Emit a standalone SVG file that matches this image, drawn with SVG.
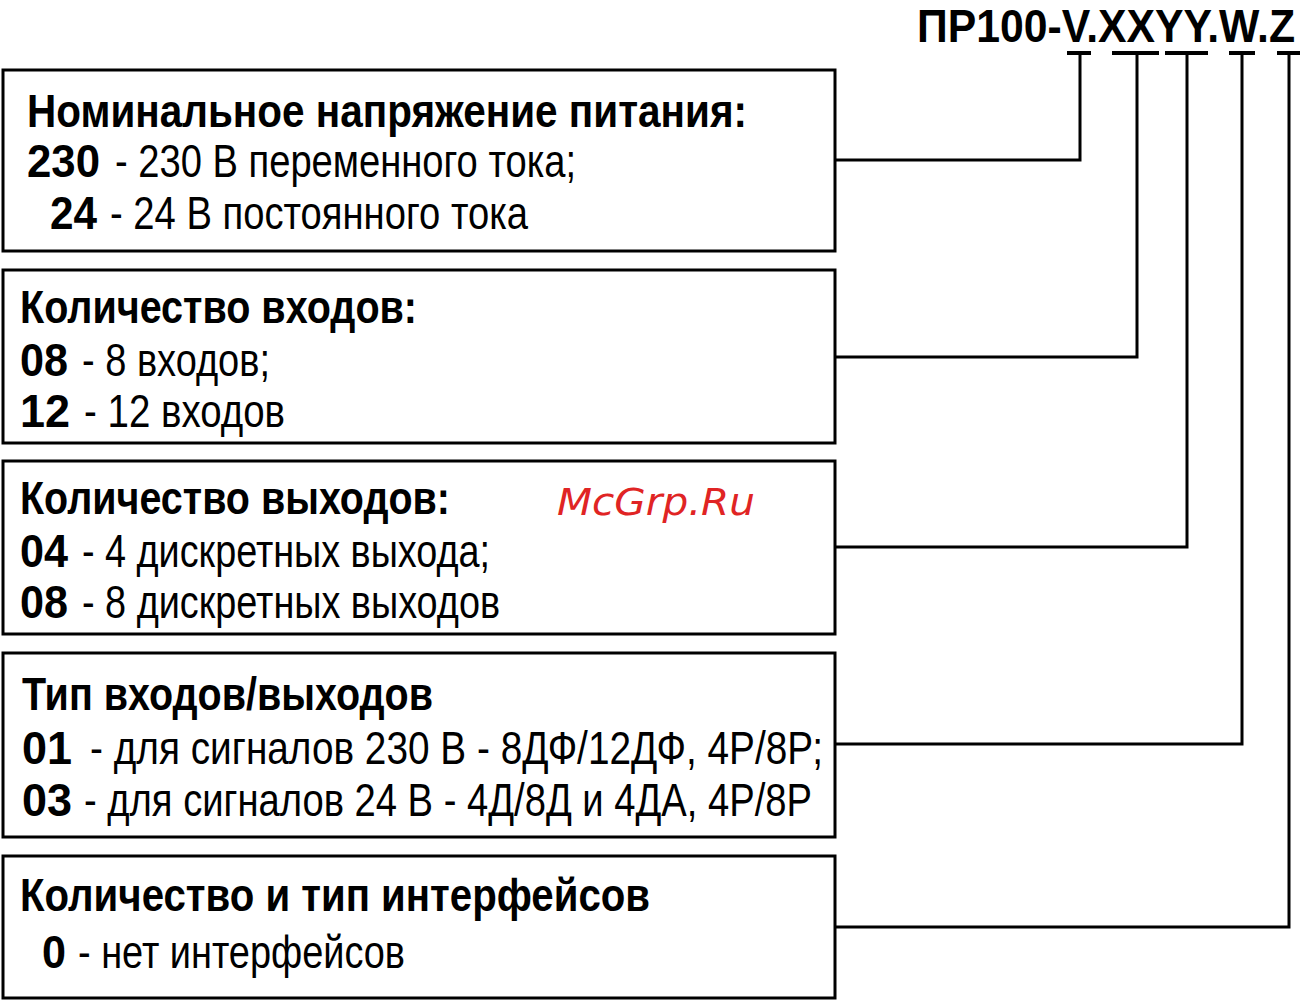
<svg xmlns="http://www.w3.org/2000/svg" width="1300" height="1002" viewBox="0 0 1300 1002">
<style>
.box{fill:#fff;stroke:#000;stroke-width:3}
.t{font-family:"Liberation Sans",Arial,sans-serif;font-size:46px;fill:#000}
.b{font-weight:bold}
.c{fill:none;stroke:#000;stroke-width:3}
.tick{stroke:#000;stroke-width:4}
.wm{font-family:"DejaVu Sans",sans-serif;font-style:italic;font-size:37px;fill:#e02424}
</style>
<rect width="1300" height="1002" fill="#fff"/>
<text class="b" x="0" y="0" transform="translate(917,42) scale(1,1.1)" font-family="Liberation Sans, Arial, sans-serif" font-size="41.5" fill="#000" textLength="378" lengthAdjust="spacingAndGlyphs">ПР100-V.XXYY.W.Z</text>
<g id="connectors">
<line class="tick" x1="1067" y1="53" x2="1091" y2="53"/>
<line class="tick" x1="1112" y1="53" x2="1159" y2="53"/>
<line class="tick" x1="1165" y1="53" x2="1208" y2="53"/>
<line class="tick" x1="1229" y1="53" x2="1255" y2="53"/>
<line class="tick" x1="1277" y1="53" x2="1300" y2="53"/>
<polyline class="c" points="1080,53 1080,160 835,160"/>
<polyline class="c" points="1137,53 1137,357 835,357"/>
<polyline class="c" points="1187,53 1187,547 835,547"/>
<polyline class="c" points="1242,53 1242,744 835,744"/>
<polyline class="c" points="1289,53 1289,927 835,927"/>
</g>
<g id="node-voltage">
<rect class="box" x="3" y="70" width="832" height="181"/>
<text class="t b" x="27" y="127" textLength="720" lengthAdjust="spacingAndGlyphs">Номинальное напряжение питания:</text>
<text class="t b" x="27" y="177" textLength="73" lengthAdjust="spacingAndGlyphs">230</text>
<text class="t" x="115" y="177" textLength="461" lengthAdjust="spacingAndGlyphs">- 230 В переменного тока;</text>
<text class="t b" x="50" y="229" textLength="47" lengthAdjust="spacingAndGlyphs">24</text>
<text class="t" x="110" y="229" textLength="418" lengthAdjust="spacingAndGlyphs">- 24 В постоянного тока</text>
</g>
<g id="node-inputs">
<rect class="box" x="3" y="270" width="832" height="173"/>
<text class="t b" x="20" y="323" textLength="397" lengthAdjust="spacingAndGlyphs">Количество входов:</text>
<text class="t b" x="20" y="376" textLength="48" lengthAdjust="spacingAndGlyphs">08</text>
<text class="t" x="82" y="376" textLength="188" lengthAdjust="spacingAndGlyphs">- 8 входов;</text>
<text class="t b" x="20" y="427" textLength="50" lengthAdjust="spacingAndGlyphs">12</text>
<text class="t" x="84" y="427" textLength="201" lengthAdjust="spacingAndGlyphs">- 12 входов</text>
</g>
<g id="node-outputs">
<rect class="box" x="3" y="461" width="832" height="173"/>
<text class="t b" x="20" y="514" textLength="430" lengthAdjust="spacingAndGlyphs">Количество выходов:</text>
<text class="t b" x="20" y="567" textLength="48" lengthAdjust="spacingAndGlyphs">04</text>
<text class="t" x="82" y="567" textLength="408" lengthAdjust="spacingAndGlyphs">- 4 дискретных выхода;</text>
<text class="t b" x="20" y="618" textLength="48" lengthAdjust="spacingAndGlyphs">08</text>
<text class="t" x="82" y="618" textLength="418" lengthAdjust="spacingAndGlyphs">- 8 дискретных выходов</text>
<text class="wm" x="557" y="515" textLength="198" lengthAdjust="spacingAndGlyphs">McGrp.Ru</text>
</g>
<g id="node-io-type">
<rect class="box" x="3" y="653" width="832" height="184"/>
<text class="t b" x="22" y="710" textLength="411" lengthAdjust="spacingAndGlyphs">Тип входов/выходов</text>
<text class="t b" x="22" y="764" textLength="50" lengthAdjust="spacingAndGlyphs">01</text>
<text class="t" x="90" y="764" textLength="733" lengthAdjust="spacingAndGlyphs">- для сигналов 230 В - 8ДФ/12ДФ, 4Р/8Р;</text>
<text class="t b" x="22" y="816" textLength="50" lengthAdjust="spacingAndGlyphs">03</text>
<text class="t" x="84" y="816" textLength="728" lengthAdjust="spacingAndGlyphs">- для сигналов 24 В - 4Д/8Д и 4ДА, 4Р/8Р</text>
</g>
<g id="node-interfaces">
<rect class="box" x="3" y="856" width="832" height="142"/>
<text class="t b" x="20" y="911" textLength="630" lengthAdjust="spacingAndGlyphs">Количество и тип интерфейсов</text>
<text class="t b" x="42" y="968" textLength="24" lengthAdjust="spacingAndGlyphs">0</text>
<text class="t" x="78" y="968" textLength="327" lengthAdjust="spacingAndGlyphs">- нет интерфейсов</text>
</g>
</svg>
